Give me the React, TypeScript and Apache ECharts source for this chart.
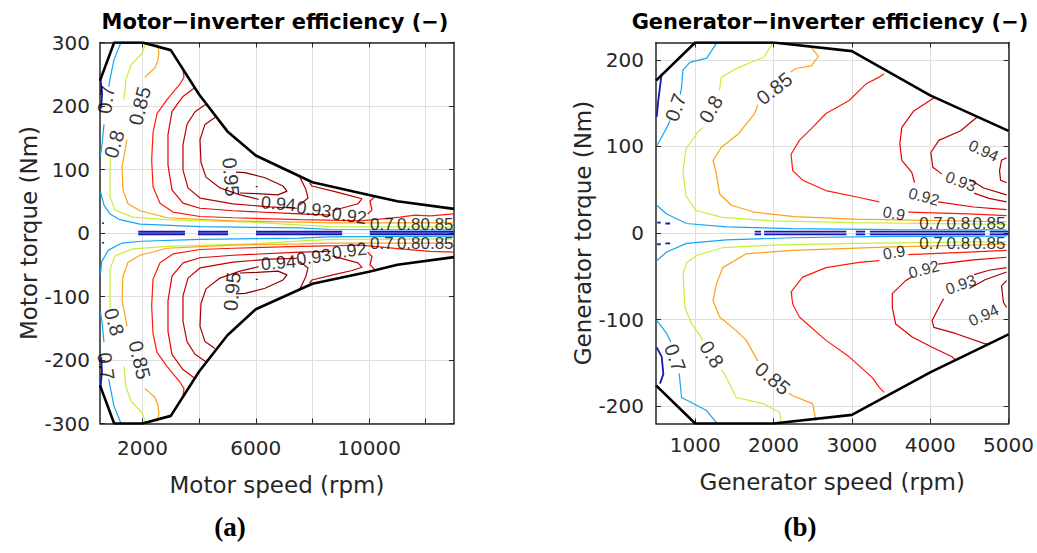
import React, { useEffect, useRef } from 'react';
import * as echarts from 'echarts';

type Line = number[][];
type Lbl = [number, number, number, string];

// ---------- axis ticks ----------
const motorXTicks = [2000, 4000, 6000, 8000, 10000, 12000];
const motorXLabels = [2000, 6000, 10000];
const motorYTicks = [-300, -200, -100, 0, 100, 200, 300];
const genXTicks = [1000, 2000, 3000, 4000, 5000];
const genYTicks = [-200, -100, 0, 100, 200];

// ---------- contour levels ----------
const levelNames = ['0.6', '0.7', '0.8', '0.85', '0.9', '0.92', '0.93', '0.94', '0.95'];
const levelColors = ['#1616b4', '#14a6f5', '#c4f03c', '#ffa114', '#ff1a0a', '#e40000', '#c00000', '#a40000', '#880000'];

// ---------- motor (left) ----------
const motorBoundUpper: Line = [[500, 240], [1000, 300], [2000, 300], [3000, 288], [4000, 218], [5000, 160], [6000, 122], [8000, 80], [10000, 60], [11000, 50], [13000, 38]];
const motorBoundLower: Line = [[500, -240], [1000, -300], [2000, -300], [3000, -288], [4000, -218], [5000, -161], [6000, -120], [8000, -80], [10000, -61], [11000, -50], [13000, -38]];

const motor060: Line[] = [
  [[520, 242], [575, 220], [540, 196]],
  [[520, -242], [570, -218], [540, -195]],
  [[580, 16], [640, 15]],
  [[580, -16], [640, -15]],
  [[1850, 2], [3500, 2]], [[3960, 2], [5020, 2]], [[6010, 2], [9050, 2]], [[10030, 2], [13000, 2]],
  [[1850, -2], [3500, -2]], [[3960, -2], [5020, -2]], [[6010, -2], [9050, -2]], [[10030, -2], [13000, -2]],
];
const motor070: Line[] = [
  [[1242, 300], [994, 273], [853, 242], [810, 230]],
  [[641, 171], [571, 139], [515, 122]],
  [[518, 65], [641, 44], [853, 30], [1206, 21], [1912, 14], [4031, 10], [7562, 8], [8621, 5.5], [13000, 5]],
  [[1240, -300], [990, -272], [850, -240], [810, -230]],
  [[641, -172], [570, -140], [515, -124]],
  [[518, -64], [560, -45], [795, -27], [1265, -16], [1970, -13], [4030, -10], [7560, -8], [8620, -6], [13000, -5]],
];
const motor080: Line[] = [
  [[2124, 300], [1983, 283], [1594, 265], [1418, 242], [1347, 210]],
  [[870, 118], [853, 100], [853, 57], [1030, 36], [1665, 25], [2866, 21], [5797, 17], [8621, 10], [13000, 9.5]],
  [[2124, -300], [1983, -283], [1594, -265], [1418, -242], [1347, -210]],
  [[870, -118], [853, -100], [853, -57], [1030, -36], [1665, -25], [2866, -21], [5797, -17], [8621, -10], [13000, -9.5]],
];
const motor085: Line[] = [
  [[2513, 298], [2583, 284], [2548, 273], [2442, 260], [2195, 250], [2080, 245]],
  [[1453, 147], [1277, 104], [1312, 68], [1489, 46], [1912, 35], [2866, 24], [5196, 19], [7562, 17], [8621, 16], [13000, 16]],
  [[2513, -298], [2583, -284], [2548, -272], [2442, -259], [2195, -249], [2080, -245]],
  [[1453, -147], [1277, -105], [1312, -68], [1489, -46], [1912, -35], [2866, -24], [5196, -19], [7562, -17], [8621, -16], [13000, -16]],
];
const motor090: Line[] = [
  [[3431, 257], [3466, 245], [3325, 235], [2866, 210], [2513, 188], [2372, 158], [2325, 115], [2372, 73], [2619, 47], [3078, 33], [4031, 26], [5196, 24], [7562, 21], [8974, 20], [9680, 19], [10387, 22], [11093, 25], [11623, 28], [12152, 27], [13000, 30]],
  [[3431, -257], [3466, -245], [3325, -235], [2866, -210], [2513, -188], [2372, -158], [2325, -115], [2372, -73], [2619, -47], [3078, -33], [4031, -26], [5196, -24], [7562, -21], [8974, -20], [9680, -19], [10387, -22], [11093, -25], [11623, -27], [12152, -29], [13000, -30]],
];
const motor092: Line[] = [
  [[3854, 229], [3431, 215], [3042, 191], [2901, 155], [2901, 107], [3042, 68], [3431, 47], [4031, 39], [5196, 35], [7562, 30], [8650, 28]],
  [[9950, 30], [10105, 36], [10034, 50], [10211, 58]],
  [[3854, -229], [3431, -215], [3042, -191], [2901, -155], [2901, -107], [3042, -68], [3431, -47], [4031, -39], [5196, -35], [7562, -30], [8650, -29]],
  [[9950, -30], [10105, -37], [10034, -50], [10211, -58]],
];
const motor093: Line[] = [
  [[4278, 204], [3854, 191], [3572, 171], [3431, 139], [3431, 99], [3607, 71], [4031, 55], [5196, 46], [6503, 41], [7450, 39]],
  [[8700, 35], [9610, 46], [9751, 54], [9398, 58], [8727, 66], [7986, 74], [7900, 79]],
  [[4278, -204], [3854, -191], [3572, -171], [3431, -139], [3431, -99], [3607, -71], [4031, -55], [5196, -46], [6503, -41], [7450, -40]],
  [[8700, -36], [9610, -47], [9751, -54], [9398, -59], [8727, -66], [7986, -74], [7900, -79]],
];
const motor094: Line[] = [
  [[4560, 182], [4207, 171], [4031, 147], [4066, 111], [4243, 88], [4737, 71], [5443, 60], [6100, 53]],
  [[7550, 44], [7845, 55], [7774, 68], [7560, 88]],
  [[4560, -182], [4207, -171], [4031, -147], [4066, -111], [4243, -88], [4737, -71], [5443, -60], [6100, -53]],
  [[7550, -45], [7845, -55], [7774, -68], [7560, -88]],
];
const motor095: Line[] = [
  [[5443, 63], [6044, 62], [6785, 60], [7103, 66], [6962, 74], [6326, 87], [5620, 95], [5300, 96]],
  [[6000, 73], [6070, 73]],
  [[5443, -63], [6044, -62], [6785, -60], [7103, -66], [6962, -74], [6326, -87], [5620, -95], [5300, -96]],
  [[6000, -73], [6070, -73]],
];
const motorLabels: Lbl[] = [
  [712, 210, 82, '0.7'], [1000, 140, 74, '0.8'], [1900, 200, 76, '0.85'], [5125, 88, -85, '0.95'],
  [712, -210, -82, '0.7'], [1000, -140, -74, '0.8'], [1900, -200, -76, '0.85'], [5160, -92, 85, '0.95'],
];
const motorChainLabels: Lbl[] = [
  [6800, 46, -5, '0.94'], [8050, 37, -8, '0.93'], [9300, 27, -8, '0.92'],
  [6800, -47, 5, '0.94'], [8050, -38, 8, '0.93'], [9300, -28, 8, '0.92'],
];
const motorClusterLabels: Lbl[] = [
  [10450, 13, 0, '0.7'], [11400, 13, 0, '0.8'], [12400, 13, 0, '0.85'],
  [10450, -16, 0, '0.7'], [11400, -16, 0, '0.8'], [12400, -16, 0, '0.85'],
];

// ---------- generator (right) ----------
const genBoundUpper: Line = [[500, 176], [1000, 220], [2000, 220], [3000, 210], [4000, 159], [5000, 118]];
const genBoundLower: Line = [[500, -176], [1000, -220], [2000, -220], [3000, -210], [4000, -161], [5000, -117]];

const gen060: Line[] = [
  [[572, 184], [529, 153], [509, 134]],
  [[509, -132], [573, -143], [594, -163], [551, -174]],
  [[515, 12], [560, 12]], [[620, 11], [680, 11]],
  [[515, -13], [560, -13]], [[620, -12], [680, -12]],
  [[1760, 1.5], [1840, 1.5]], [[1880, 1.5], [2930, 1.5]], [[3050, 1.5], [3170, 1.5]], [[3230, 1.5], [4700, 1.5]], [[4760, 1.5], [5000, 1.5]],
  [[1760, -1.5], [1840, -1.5]], [[1880, -1.5], [2930, -1.5]], [[3050, -1.5], [3170, -1.5]], [[3230, -1.5], [4700, -1.5]], [[4760, -1.5], [5000, -1.5]],
];
const gen070: Line[] = [
  [[1271, 219], [1148, 202], [932, 197], [843, 188], [826, 168], [810, 160]],
  [[680, 130], [640, 122], [513, 101]],
  [[509, 32], [636, 22], [890, 11], [1399, 7], [2241, 5], [3512, 4], [4975, 3.5]],
  [[509, -101], [636, -116], [690, -126]],
  [[795, -162], [805, -170], [826, -190], [975, -197], [1145, -205], [1271, -219]],
  [[509, -32], [636, -22], [890, -12], [1399, -8], [2241, -5.5], [3512, -4], [4975, -3.5]],
];
const gen080: Line[] = [
  [[1987, 219], [1877, 203], [1548, 191], [1334, 180], [1310, 165]],
  [[1100, 122], [1038, 117], [882, 97], [844, 72], [882, 43], [1009, 26], [1348, 18], [1983, 14], [3038, 12], [4975, 10]],
  [[2098, -218], [2076, -207], [1864, -197], [1526, -190], [1377, -163], [1335, -158]],
  [[1100, -124], [1059, -118], [954, -105], [869, -86], [847, -47], [890, -34], [1017, -26], [1348, -17], [1983, -14], [3038, -12], [4975, -10]],
];
const gen085: Line[] = [
  [[2483, 214], [2572, 204], [2483, 193], [2284, 190], [2220, 186]],
  [[1800, 148], [1758, 138], [1546, 114], [1334, 99], [1228, 84], [1271, 68], [1313, 45], [1462, 32], [1758, 24], [2266, 19], [3029, 16], [4975, 13]],
  [[2543, -217], [2499, -197], [2245, -188], [2200, -185]],
  [[1800, -148], [1653, -124], [1526, -113], [1313, -97], [1228, -78], [1271, -59], [1352, -40], [1653, -24], [2241, -20], [3512, -16], [4975, -13]],
];
const gen090: Line[] = [
  [[3411, 184], [3347, 180], [3178, 172], [2966, 153], [2669, 138], [2499, 122], [2330, 107], [2224, 91], [2245, 72], [2372, 61], [2669, 49], [3093, 41], [3350, 36]],
  [[3720, 24], [4491, 22], [4975, 20]],
  [[3411, -184], [3347, -178], [3262, -167], [2966, -143], [2670, -124], [2330, -97], [2245, -82], [2225, -68], [2372, -51], [2670, -40], [3093, -34], [3350, -32]],
  [[3720, -25], [4491, -22], [4975, -20]],
];
const gen092: Line[] = [
  [[4045, 156], [3790, 141], [3638, 122], [3612, 103], [3638, 84], [3765, 70], [3800, 58]],
  [[4100, 36], [4554, 30], [4975, 27]],
  [[4322, -147], [4279, -143], [4024, -132], [3770, -120], [3559, -105], [3516, -86], [3516, -70], [3686, -55], [3780, -50]],
  [[4100, -36], [4554, -31], [4975, -28]],
];
const gen093: Line[] = [
  [[4600, 134], [4389, 118], [4110, 107], [4008, 93], [4033, 76], [4150, 68]],
  [[4560, 46], [4750, 40], [4975, 36]],
  [[4745, -128], [4703, -128], [4322, -116], [4046, -109], [4024, -101], [4110, -86], [4170, -76]],
  [[4560, -48], [4750, -43], [4975, -40]],
];
const gen094: Line[] = [
  [[4975, 87], [4910, 84], [4885, 72], [4898, 61], [4975, 58]],
  [[4500, 62], [4682, 52], [4975, 44]],
  [[4975, -55], [4910, -61], [4935, -80], [4975, -86]],
  [[4500, -64], [4700, -54], [4975, -45]],
];
const genLabels: Lbl[] = [
  [750, 145, 70, '0.7'], [1200, 143, 60, '0.8'], [2010, 167, 38, '0.85'],
  [745, -144, -70, '0.7'], [1212, -140, -58, '0.8'], [1990, -168, -40, '0.85'],
];
const genChainLabels: Lbl[] = [
  [3538, 22.5, -10, '0.9'], [3919, 42, -15, '0.92'], [4390, 59.5, -20, '0.93'], [4682, 95, -25, '0.94'],
  [3538, -22.5, 10, '0.9'], [3919, -42, 15, '0.92'], [4390, -59.5, 20, '0.93'], [4682, -95, 25, '0.94'],
];
const genClusterLabels: Lbl[] = [
  [4010, 10.5, 0, '0.7'], [4360, 10.5, 0, '0.8'], [4750, 10.5, 0, '0.85'],
  [4010, -12.5, 0, '0.7'], [4360, -12.5, 0, '0.8'], [4750, -12.5, 0, '0.85'],
];

const motorLevels = [motor060, motor070, motor080, motor085, motor090, motor092, motor093, motor094, motor095];
const genLevels = [gen060, gen070, gen080, gen085, gen090, gen092, gen093, gen094];

const TXT = '#262626';
const tickFont = { fontFamily: 'DejaVu Sans', fontSize: 20, color: TXT };
const nameFont = { fontFamily: 'DejaVu Sans', fontSize: 23, color: TXT };
const axLine = { show: true, onZero: false, lineStyle: { color: TXT, width: 1.5 } };
const gridLine = { show: true, lineStyle: { color: '#dedede', width: 1 } };
const plainNum = (v: number) => String(v);

function contourSeries(levels: Line[][], xi: number, yi: number) {
  const out: any[] = [];
  levels.forEach((lines, li) => {
    lines.forEach((pts, k) => {
      out.push({
        type: 'line', name: levelNames[li] + '-' + k, xAxisIndex: xi, yAxisIndex: yi, data: pts,
        symbol: 'none', showSymbol: false, silent: true, clip: true, z: 2,
        lineStyle: { color: levelColors[li], width: li === 0 ? 1.8 : 1.2 },
      });
    });
  });
  return out;
}

function boundSeries(pts: Line, xi: number, yi: number) {
  return {
    type: 'line', xAxisIndex: xi, yAxisIndex: yi, data: pts, symbol: 'none', silent: true, clip: true, z: 4,
    lineStyle: { color: '#000', width: 2.6 },
  };
}

function labelSeries(items: Lbl[], xi: number, yi: number, size: number) {
  const base = { show: true, position: 'inside', fontFamily: 'Liberation Sans', fontSize: size, color: '#000' };
  return {
    type: 'scatter', xAxisIndex: xi, yAxisIndex: yi, symbolSize: 0, silent: true, z: 6,
    itemStyle: { color: 'rgba(0,0,0,0)' },
    label: base,
    data: items.map(([x, y, r, t]) => ({ value: [x, y], label: { ...base, rotate: r, formatter: t } })),
  };
}

function xAxisPair(grid: number, min: number, max: number, ticks: number[], labels: number[], name: string, gap: number, margin: number) {
  return [
    {
      gridIndex: grid, type: 'value', position: 'bottom', min, max,
      axisLine: axLine, axisTick: { show: true, inside: true, length: 5, customValues: ticks, lineStyle: { color: TXT } },
      axisLabel: { show: true, customValues: labels, margin, formatter: plainNum, ...tickFont },
      splitLine: gridLine, name, nameLocation: 'middle', nameGap: gap, nameTextStyle: nameFont,
    },
    {
      gridIndex: grid, type: 'value', position: 'top', min, max,
      axisLine: axLine, axisTick: { show: true, inside: true, length: 5, customValues: ticks, lineStyle: { color: TXT } },
      axisLabel: { show: false }, splitLine: { show: false },
    },
  ];
}

function yAxisPair(grid: number, min: number, max: number, ticks: number[], name: string, gap: number, margin: number) {
  return [
    {
      gridIndex: grid, type: 'value', position: 'left', min, max,
      axisLine: axLine, axisTick: { show: true, inside: true, length: 5, customValues: ticks, lineStyle: { color: TXT } },
      axisLabel: { show: true, customValues: ticks, margin, formatter: plainNum, ...tickFont },
      splitLine: gridLine, name, nameLocation: 'middle', nameGap: gap, nameTextStyle: nameFont,
    },
    {
      gridIndex: grid, type: 'value', position: 'right', min, max,
      axisLine: axLine, axisTick: { show: true, inside: true, length: 5, customValues: ticks, lineStyle: { color: TXT } },
      axisLabel: { show: false }, splitLine: { show: false },
    },
  ];
}

const textStyle = (text: string, family: string, size: number) => ({
  text, fontFamily: family, fontWeight: 'bold', fontSize: size, fill: '#000',
  align: 'center', verticalAlign: 'middle', textAlign: 'center', textVerticalAlign: 'middle',
});

export default function App() {
  const ref = useRef<HTMLDivElement>(null);
  useEffect(() => {
    if (!ref.current) return;
    const chart = echarts.init(ref.current, undefined, { renderer: 'svg' });
    const option: any = {
      animation: false,
      backgroundColor: '#fff',
      grid: [
        { left: 100, top: 42.5, width: 354, height: 381 },
        { left: 656, top: 42.5, width: 354, height: 381 },
      ],
      xAxis: [
        ...xAxisPair(0, 500, 13000, motorXTicks, motorXLabels, 'Motor speed (rpm)', 50, 14),
        ...xAxisPair(1, 500, 5000, genXTicks, genXTicks, 'Generator speed (rpm)', 47, 11),
      ],
      yAxis: [
        ...yAxisPair(0, -300, 300, motorYTicks, 'Motor torque (Nm)', 60, 10),
        ...yAxisPair(1, -220, 220, genYTicks, 'Generator torque (Nm)', 54, 12),
      ],
      series: [
        ...contourSeries(motorLevels, 0, 0),
        boundSeries(motorBoundUpper, 0, 0),
        boundSeries(motorBoundLower, 0, 0),
        labelSeries(motorLabels, 0, 0, 20),
        labelSeries(motorChainLabels, 0, 0, 18),
        labelSeries(motorClusterLabels, 0, 0, 17),
        ...contourSeries(genLevels, 2, 2),
        boundSeries(genBoundUpper, 2, 2),
        boundSeries(genBoundLower, 2, 2),
        labelSeries(genLabels, 2, 2, 20),
        labelSeries(genChainLabels, 2, 2, 16),
        labelSeries(genClusterLabels, 2, 2, 17),
      ],
      graphic: [
        { type: 'text', x: 275, y: 22, style: textStyle('Motor\u2212inverter efficiency (\u2212)', 'DejaVu Sans', 21) },
        { type: 'text', x: 830, y: 22, style: textStyle('Generator\u2212inverter efficiency (\u2212)', 'DejaVu Sans', 21) },
        { type: 'text', x: 230, y: 527, style: textStyle('(a)', 'Liberation Serif', 27) },
        { type: 'text', x: 800, y: 527, style: textStyle('(b)', 'Liberation Serif', 27) },
      ],
    };
    chart.setOption(option);
    return () => chart.dispose();
  }, []);
  return <div ref={ref} style={{ position: 'absolute', left: 0, top: 0, width: 1037, height: 553, background: '#fff' }} />;
}
